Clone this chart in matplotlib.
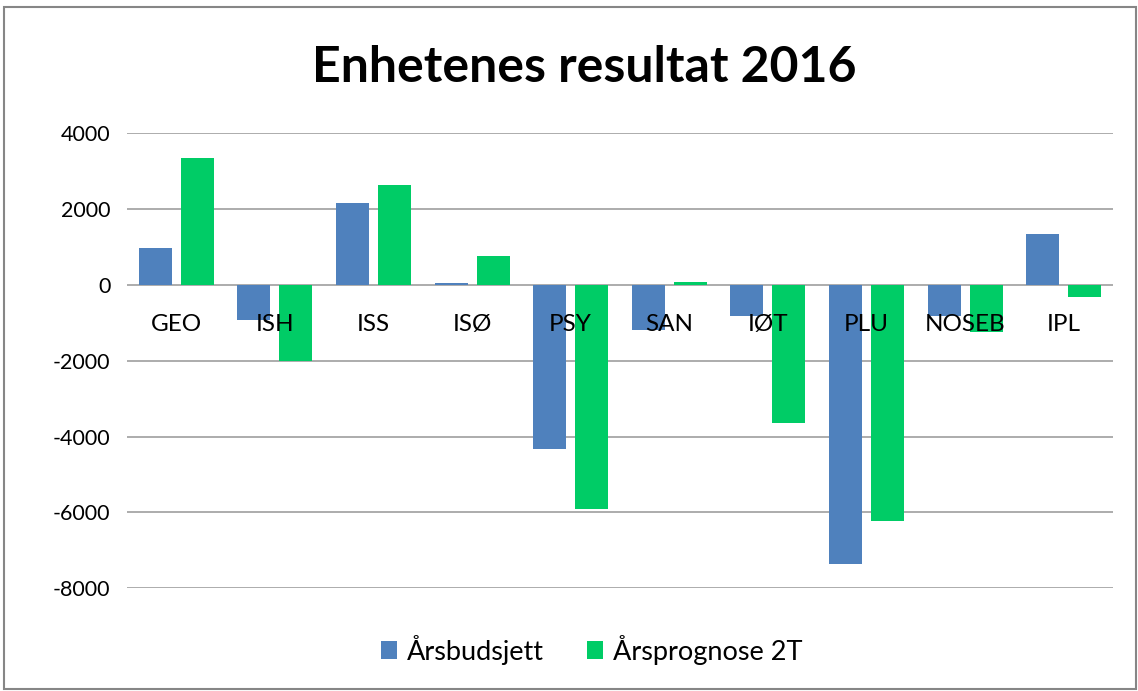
import numpy as np
import matplotlib
matplotlib.use("Agg")
import matplotlib.pyplot as plt
from matplotlib.patches import Rectangle
from matplotlib.transforms import offset_copy

plt.rcParams['font.family'] = ['Lato', 'DejaVu Sans']

categories = ['GEO', 'ISH', 'ISS', 'ISØ', 'PSY', 'SAN', 'IØT', 'PLU', 'NOSEB', 'IPL']
budsjett = [970, -920, 2150, 50, -4320, -1200, -815, -7350, -815, 1340]
prognose = [3350, -2000, 2630, 770, -5900, 90, -3630, -6220, -1230, -325]
series_names = ['Årsbudsjett', 'Årsprognose 2T']
yticks = [4000, 2000, 0, -2000, -4000, -6000, -8000]

blue = '#4F81BD'
green = '#00CC66'

fig = plt.figure(figsize=(11.38, 6.91), dpi=100)
ax = fig.add_axes([0.1116, 0.1486, 0.8664, 0.6585])

x = np.arange(len(categories))
w = 0.335
gap = 0.09
ax.bar(x - (w + gap) / 2, budsjett, w, color=blue, label=series_names[0], zorder=3)
ax.bar(x + (w + gap) / 2, prognose, w, color=green, label=series_names[1], zorder=3)

ax.set_xlim(-0.5, len(categories) - 0.5)
ax.set_ylim(-8000, 4000)
ax.set_yticks(yticks)
ax.set_yticklabels([str(t) for t in yticks], fontsize=15.5)
ax.tick_params(axis='y', length=0, pad=12)
ax.set_xticks([])
ax.yaxis.grid(True, color='#A6A6A6', linewidth=1.3, zorder=0)
for s in ax.spines.values():
    s.set_visible(False)

# category labels next to the zero line
lab_tr = offset_copy(ax.transData, fig=fig, x=0, y=-40, units='dots')
for xi, c in zip(x, categories):
    ax.text(xi, 0, c, ha='center', va='center', fontsize=17.5, transform=lab_tr, zorder=4)

fig.text(0.513, 0.902, 'Enhetenes resultat 2016', ha='center', va='center',
         fontsize=36, fontweight='bold')

fig.legend(loc='center', bbox_to_anchor=(0.52, 0.06), ncol=2, frameon=False,
           fontsize=19.5, handlelength=0.6, handleheight=0.6, handletextpad=0.35,
           columnspacing=1.6)

fig.patches.append(Rectangle((4 / 1138, 2 / 691), 1132 / 1138, 682 / 691,
                             transform=fig.transFigure, fill=False,
                             edgecolor='#868686', linewidth=1.5))

fig.savefig('out.png', dpi=100)
